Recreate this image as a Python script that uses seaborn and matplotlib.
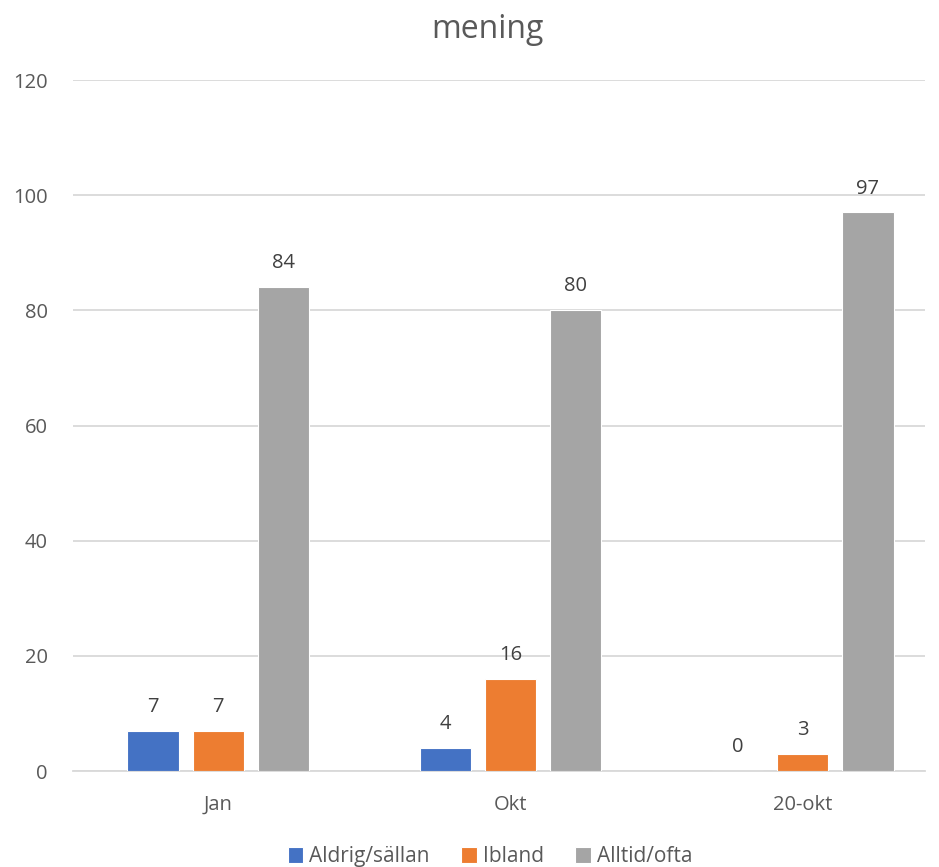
import matplotlib
matplotlib.use("Agg")
import matplotlib.pyplot as plt
import seaborn as sns
import pandas as pd

categories = ["Jan", "Okt", "20-okt"]
series_names = ["Aldrig/sällan", "Ibland", "Alltid/ofta"]
aldrig = [7, 4, 0]
ibland = [7, 16, 3]
alltid = [84, 80, 97]
y_ticks = [0, 20, 40, 60, 80, 100, 120]
colors = ["#4472C4", "#ED7D31", "#A5A5A5"]

rows = []
for name, vals in zip(series_names, [aldrig, ibland, alltid]):
    for cat, v in zip(categories, vals):
        rows.append({"kategori": cat, "serie": name, "värde": v})
df = pd.DataFrame(rows)

sns.set_theme(style="white")
plt.rcParams["font.family"] = ["Open Sans", "DejaVu Sans"]

fig = plt.figure(figsize=(9.39, 8.67), dpi=100)
ax = fig.add_axes([0.0777, 0.1107, 0.9073, 0.797])

sns.barplot(data=df, x="kategori", y="värde", hue="serie", order=categories,
            hue_order=series_names, palette=colors, saturation=1,
            width=0.667, gap=0.215, edgecolor="white", linewidth=0.8,
            ax=ax, legend=True, zorder=3)

ax.set_ylim(0, 120)
ax.set_xlim(-0.496, 2.417)
ax.set_yticks(y_ticks)
ax.set_yticklabels([str(t) for t in y_ticks])
ax.yaxis.grid(True, color="#D9D9D9", linewidth=1.3, zorder=0)
ax.set_axisbelow(True)
for s in ["top", "right", "left"]:
    ax.spines[s].set_visible(False)
ax.spines["bottom"].set_color("#D9D9D9")
ax.spines["bottom"].set_linewidth(1.3)
ax.tick_params(axis="both", length=0, labelsize=14.5, colors="#595959")
ax.tick_params(axis="x", pad=17)
ax.tick_params(axis="y", pad=18)
ax.set_xlabel("")
ax.set_ylabel("")

for cont in ax.containers:
    ax.bar_label(cont, labels=[f"{int(v)}" for v in cont.datavalues],
                 padding=10, fontsize=14.5, color="#404040")

ax.set_title("mening", fontsize=23, color="#595959", pad=30, x=0.487)

handles, labels = ax.get_legend_handles_labels()
ax.legend_.remove()
fig.legend(handles, labels, loc="lower center", bbox_to_anchor=(0.522, -0.022),
           ncol=3, frameon=False, fontsize=15, labelcolor="#595959",
           handlelength=0.75, handleheight=0.75, handletextpad=0.3,
           columnspacing=1.5)

fig.savefig("out.png", dpi=100)
